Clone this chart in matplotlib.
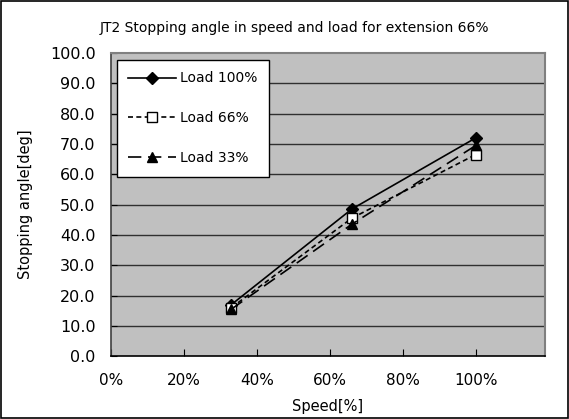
import matplotlib
matplotlib.use("Agg")
import matplotlib.pyplot as plt
from matplotlib.patches import Rectangle

speed = [0.33, 0.66, 1.00]
load100 = [17.0, 48.5, 72.0]
load66 = [16.0, 45.5, 66.5]
load33 = [15.5, 43.5, 69.5]
series_labels = ["Load 100%", "Load 66%", "Load 33%"]
xticks = [0, 0.2, 0.4, 0.6, 0.8, 1.0]
xtick_labels = ["0%", "20%", "40%", "60%", "80%", "100%"]
yticks = [0, 10, 20, 30, 40, 50, 60, 70, 80, 90, 100]
ytick_labels = ["%.1f" % v for v in yticks]

plt.rcParams['font.family'] = ['DejaVu Sans']

fig = plt.figure(figsize=(5.69, 4.19), dpi=100)
fig.patch.set_facecolor("white")
fig.add_artist(Rectangle((0.002, 0.002), 0.996, 0.995, transform=fig.transFigure,
                         fill=False, edgecolor="black", linewidth=1.2))

ax = fig.add_axes([0.195, 0.150, 0.763, 0.7235])
ax.set_facecolor("#C0C0C0")
ax.set_xlim(0, 1.19)
ax.set_ylim(0, 100)

for y in yticks[1:-1]:
    ax.axhline(y, color="#303030", linewidth=1.0, zorder=1)

ax.plot(speed, load100, color="black", linewidth=1.2, linestyle="-",
        marker="D", markersize=6, markerfacecolor="black", markeredgecolor="black",
        label=series_labels[0], zorder=3)
ax.plot(speed, load66, color="black", linewidth=1.2, linestyle=(0, (3, 2)),
        marker="s", markersize=7, markerfacecolor="white", markeredgecolor="black",
        label=series_labels[1], zorder=3)
ax.plot(speed, load33, color="black", linewidth=1.2, linestyle=(0, (8, 4)),
        marker="^", markersize=7, markerfacecolor="black", markeredgecolor="black",
        label=series_labels[2], zorder=3)

ax.set_xticks(xticks)
ax.set_xticklabels(xtick_labels, fontsize=11)
ax.set_yticks(yticks)
ax.set_yticklabels(ytick_labels, fontsize=11.5)
ax.tick_params(axis="x", direction="in", length=5, pad=12, color="black")
ax.tick_params(axis="y", direction="in", length=4, pad=11, color="black")

for side in ["top", "right"]:
    ax.spines[side].set_color("#808080")
    ax.spines[side].set_linewidth(1.5)
ax.spines["left"].set_color("#404040")
ax.spines["bottom"].set_color("black")
ax.spines["left"].set_linewidth(1.2)
ax.spines["bottom"].set_linewidth(1.2)

ax.set_xlabel("Speed[%]", fontsize=10.5, labelpad=8)
ax.set_ylabel("Stopping angle[deg]", fontsize=10.5, labelpad=12)

fig.text(0.518, 0.932, "JT2 Stopping angle in speed and load for extension 66%",
         fontsize=10, ha="center", va="center")

leg = ax.legend(loc="upper left", bbox_to_anchor=(0.013, 0.978), fontsize=10,
                frameon=True, fancybox=False, framealpha=1, edgecolor="black",
                handlelength=3.4, labelspacing=1.85, borderpad=0.85, handletextpad=0.3,
                borderaxespad=0)
leg.get_frame().set_linewidth(1.0)

fig.savefig("out.png", dpi=100)
